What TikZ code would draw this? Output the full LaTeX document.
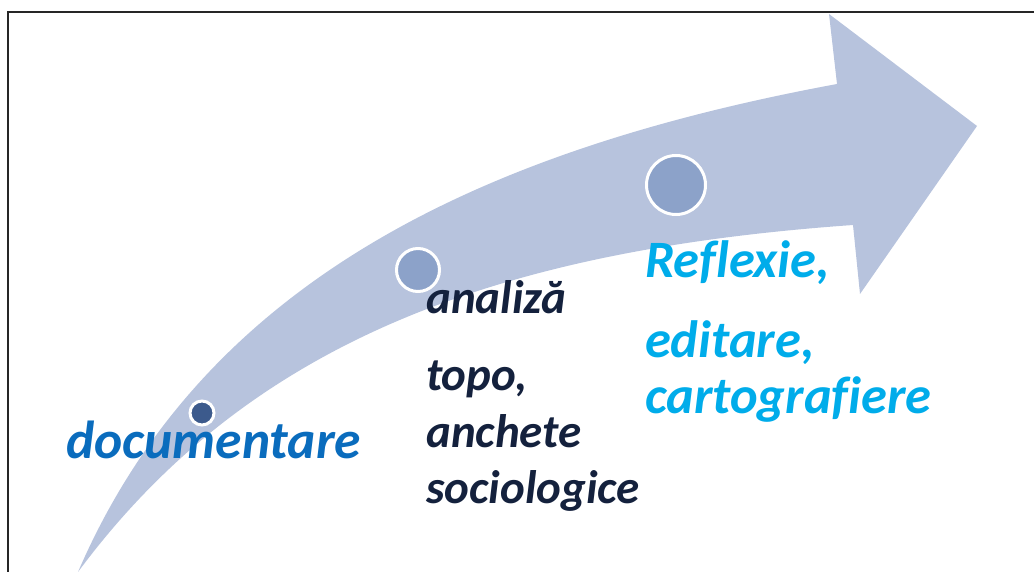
\documentclass[tikz,border=0pt]{standalone}
\usepackage{fontspec}
\setmainfont[Ligatures=NoCommon]{Carlito}
\definecolor{band}{HTML}{B7C3DD}
\definecolor{dotdark}{HTML}{3C5A8C}
\definecolor{dotmid}{HTML}{8CA2C9}
\definecolor{navytext}{HTML}{14213D}
\definecolor{bluetext}{HTML}{0A6CBD}
\definecolor{skytext}{HTML}{00ACEA}
\tikzset{
  stepdot/.style={circle, draw=white, line width=3pt, inner sep=0pt},
  lbl/.style={anchor=base west, inner sep=0pt, font=\bfseries\itshape},
}
\begin{document}
\begin{tikzpicture}[x=1pt,y=-1pt]
\useasboundingbox (0,0) rectangle (1034,572);
\clip (0,0) rectangle (1034,572);
% curved arrow band
\fill[band] (78,572) .. controls (203,282) and (480,150) .. (837,84)
  -- (829,14) -- (977,126) -- (860,294) -- (853,225)
  .. controls (500,250) and (250,340) .. (78,572) -- cycle;
% frame
\draw[line width=2pt, black!85] (8,12.5) rectangle (1050,590);
% dots
\node[stepdot, fill=dotdark, minimum size=24pt] (d1) at (202,413) {};
\node[stepdot, fill=dotmid, minimum size=43pt] (d2) at (418,270) {};
\node[stepdot, fill=dotmid, minimum size=59pt] (d3) at (676,185) {};
% labels
\node[lbl, text=bluetext, font=\bfseries\itshape\fontsize{53.5}{60}\selectfont] (t1) at (66,458) {documentare};
\node[lbl, text=navytext, font=\bfseries\itshape\fontsize{47}{54}\selectfont] (t2) at (426,313) {analiză};
\node[lbl, text=navytext, font=\bfseries\itshape\fontsize{47}{54}\selectfont] (t3) at (426,390) {topo,};
\node[lbl, text=navytext, font=\bfseries\itshape\fontsize{47}{54}\selectfont] (t4) at (426,447) {anchete};
\node[lbl, text=navytext, font=\bfseries\itshape\fontsize{47}{54}\selectfont] (t5) at (426,503) {sociologice};
\node[lbl, text=skytext, font=\bfseries\itshape\fontsize{52.5}{58}\selectfont] (t6) at (645,278) {Reflexie,};
\node[lbl, text=skytext, font=\bfseries\itshape\fontsize{52.5}{58}\selectfont] (t7) at (645,357) {editare,};
\node[lbl, text=skytext, font=\bfseries\itshape\fontsize{52.5}{58}\selectfont] (t8) at (645,413) {cartografiere};
\end{tikzpicture}
\end{document}
